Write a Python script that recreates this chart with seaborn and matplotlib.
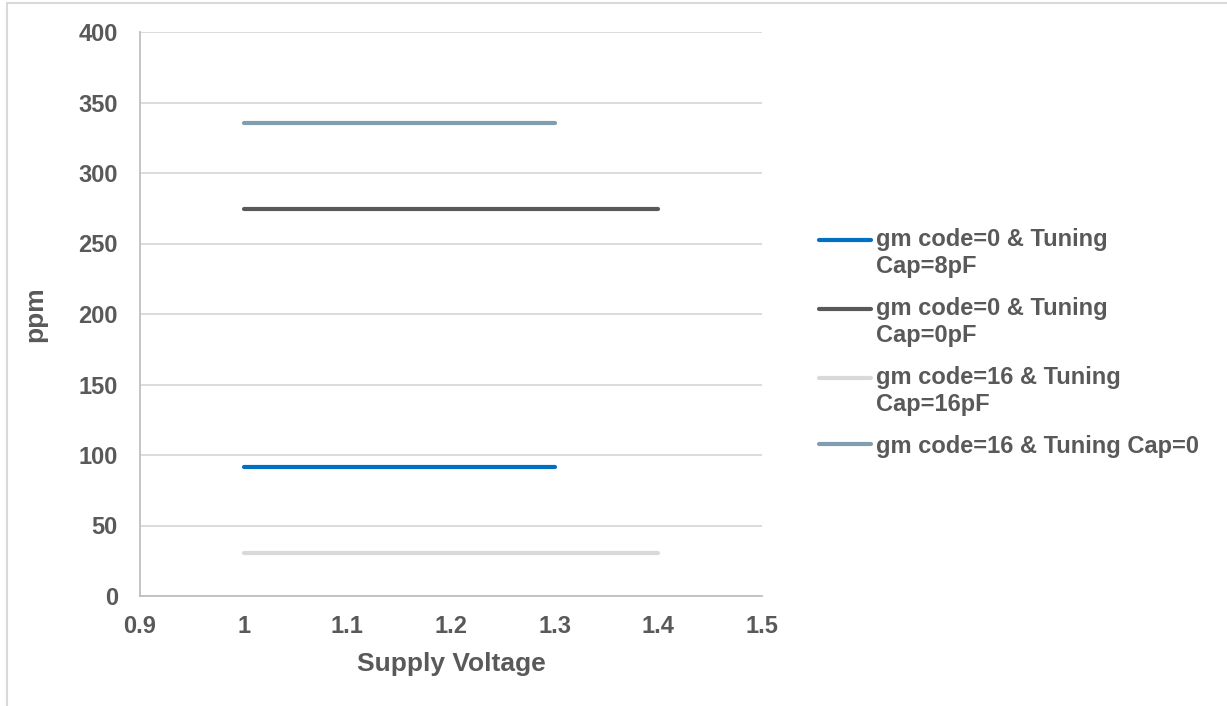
import pandas as pd
import seaborn as sns
import matplotlib.pyplot as plt
from matplotlib.legend_handler import HandlerLine2D
from matplotlib.lines import Line2D

# Data
voltage_short = [1.0, 1.1, 1.2, 1.3]
voltage_long = [1.0, 1.1, 1.2, 1.3, 1.4]

ppm_gm0_cap8 = [91.5, 91.5, 91.5, 91.5]
ppm_gm0_cap0 = [274.5, 274.5, 274.5, 274.5, 274.5]
ppm_gm16_cap16 = [30.5, 30.5, 30.5, 30.5, 30.5]
ppm_gm16_cap0 = [335.5, 335.5, 335.5, 335.5]

labels = ['gm code=0 & Tuning\nCap=8pF',
          'gm code=0 & Tuning\nCap=0pF',
          'gm code=16 & Tuning\nCap=16pF',
          'gm code=16 & Tuning Cap=0']
colors = ['#0070c0', '#595959', '#d9d9d9', '#7f9eb0']

x_ticks = [0.9, 1.0, 1.1, 1.2, 1.3, 1.4, 1.5]
x_tick_labels = ['0.9', '1', '1.1', '1.2', '1.3', '1.4', '1.5']
y_ticks = [0, 50, 100, 150, 200, 250, 300, 350, 400]

frames = [
    pd.DataFrame({'voltage': voltage_short, 'ppm': ppm_gm0_cap8, 'series': labels[0]}),
    pd.DataFrame({'voltage': voltage_long, 'ppm': ppm_gm0_cap0, 'series': labels[1]}),
    pd.DataFrame({'voltage': voltage_long, 'ppm': ppm_gm16_cap16, 'series': labels[2]}),
    pd.DataFrame({'voltage': voltage_short, 'ppm': ppm_gm16_cap0, 'series': labels[3]}),
]
data = pd.concat(frames, ignore_index=True)

sns.set_style('white')
plt.rcParams['font.family'] = ['Liberation Sans', 'DejaVu Sans']
plt.rcParams['font.weight'] = 'bold'

text_color = '#595959'

fig = plt.figure(figsize=(12.27, 7.06), dpi=100)
ax = fig.add_axes([140 / 1227, 1 - 596 / 706, 622 / 1227, 564 / 706])

sns.lineplot(data=data, x='voltage', y='ppm', hue='series',
             palette=dict(zip(labels, colors)), linewidth=3,
             ax=ax, legend=False, zorder=3)
for ln in ax.get_lines():
    ln.set_solid_capstyle('round')

ax.set_xlim(0.9, 1.5)
ax.set_ylim(0, 400)
ax.set_xticks(x_ticks)
ax.set_xticklabels(x_tick_labels)
ax.set_yticks(y_ticks)
ax.yaxis.grid(True, color='#d9d9d9', linewidth=1.3)
ax.set_axisbelow(True)
ax.tick_params(axis='y', length=0, labelsize=17, labelcolor=text_color, pad=16)
ax.tick_params(axis='x', length=0, labelsize=17, labelcolor=text_color, pad=14)
for lab in ax.get_xticklabels() + ax.get_yticklabels():
    lab.set_fontweight('bold')

for side in ['top', 'right']:
    ax.spines[side].set_visible(False)
for side in ['left', 'bottom']:
    ax.spines[side].set_color('#bfbfbf')
    ax.spines[side].set_linewidth(1.3)

ax.set_xlabel('Supply Voltage', fontsize=19, fontweight='bold', color=text_color, labelpad=10)
ax.set_ylabel('ppm', fontsize=19, fontweight='bold', color=text_color, labelpad=22)


class FirstLineHandler(HandlerLine2D):
    # put the legend line next to the first line of a wrapped label
    def create_artists(self, legend, orig_handle, xdescent, ydescent,
                       width, height, fontsize, trans):
        artists = super().create_artists(legend, orig_handle, xdescent, ydescent,
                                         width, height, fontsize, trans)
        shift = 10 if '\n' in orig_handle.get_label() else 0
        for a in artists:
            a.set_ydata([y + shift for y in a.get_ydata()])
        return artists


handles = [Line2D([], [], color=c, linewidth=3, label=l) for c, l in zip(colors, labels)]
leg = fig.legend(handles=handles, labels=labels, loc='upper left',
                 bbox_to_anchor=(819 / 1227, 1 - 228 / 706), frameon=False,
                 fontsize=17, handlelength=2.2, handletextpad=0.22,
                 labelspacing=0.78, borderaxespad=0, borderpad=0,
                 handler_map={Line2D: FirstLineHandler()})
for t in leg.get_texts():
    t.set_color(text_color)
    t.set_fontweight('bold')
    t.set_linespacing(1.25)

# chart area border
fig.add_artist(Line2D([7 / 1227, 7 / 1227], [0, 1 - 3 / 706], color='#d9d9d9', linewidth=1.5))
fig.add_artist(Line2D([7 / 1227, 1], [1 - 3 / 706, 1 - 3 / 706], color='#d9d9d9', linewidth=1.5))

fig.savefig('out.png', dpi=100)
